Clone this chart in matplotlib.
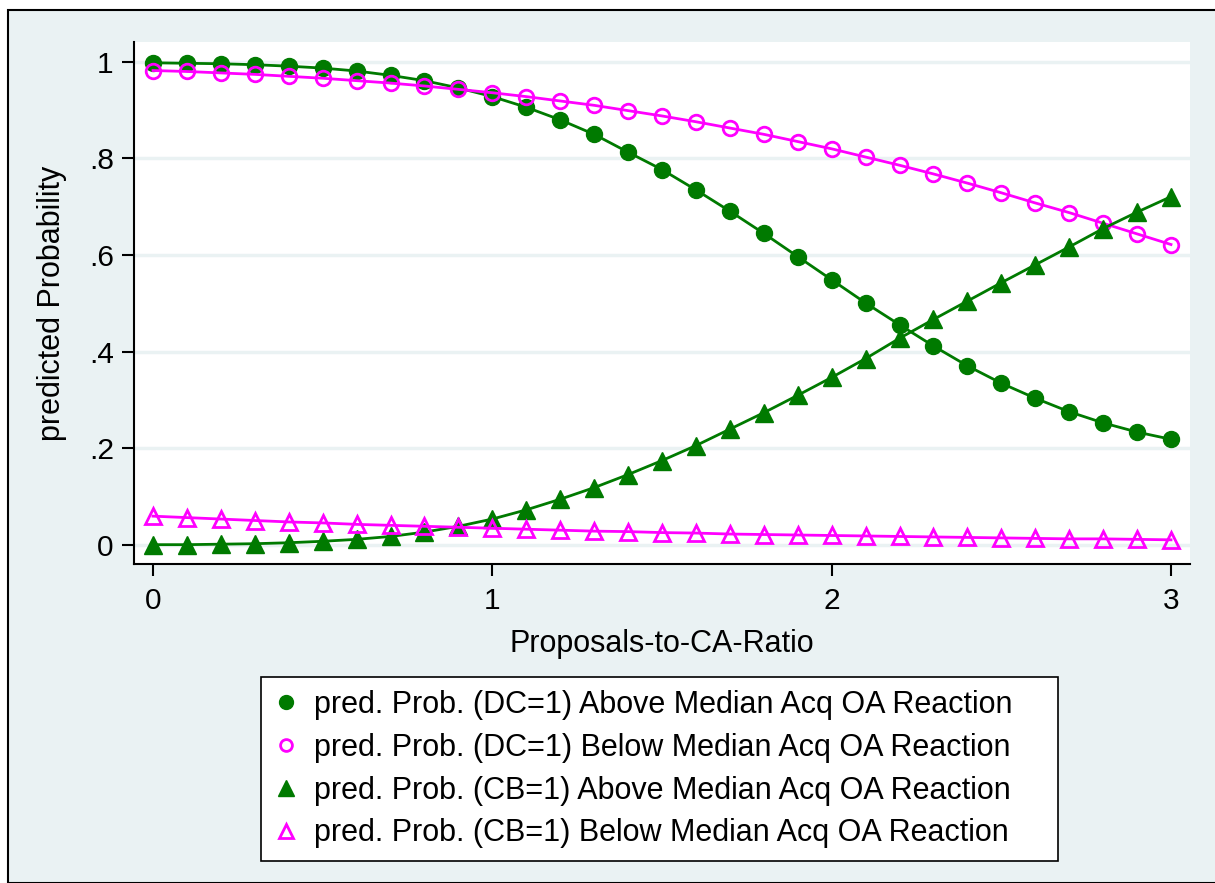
import numpy as np
import matplotlib.pyplot as plt
from matplotlib.patches import Rectangle
from matplotlib.lines import Line2D

plt.rcParams['font.family'] = ['Liberation Sans', 'DejaVu Sans']

ratio = [round(0.1 * i, 1) for i in range(31)]

dc_above = [0.998, 0.997, 0.996, 0.994, 0.991, 0.987, 0.981, 0.972, 0.961, 0.946,
            0.928, 0.906, 0.880, 0.850, 0.813, 0.777, 0.735, 0.691, 0.645, 0.597,
            0.549, 0.501, 0.456, 0.412, 0.371, 0.335, 0.304, 0.276, 0.253, 0.234,
            0.219]
dc_below = [0.982, 0.980, 0.977, 0.974, 0.970, 0.966, 0.961, 0.956, 0.950, 0.943,
            0.936, 0.928, 0.919, 0.910, 0.899, 0.888, 0.876, 0.863, 0.850, 0.835,
            0.820, 0.803, 0.786, 0.768, 0.749, 0.729, 0.708, 0.688, 0.666, 0.644,
            0.622]
cb_above = [0.001, 0.001, 0.002, 0.003, 0.005, 0.008, 0.012, 0.018, 0.027, 0.039,
            0.054, 0.073, 0.095, 0.119, 0.146, 0.175, 0.206, 0.240, 0.274, 0.310,
            0.347, 0.386, 0.428, 0.467, 0.505, 0.543, 0.580, 0.617, 0.655, 0.689,
            0.721]
cb_below = [0.060, 0.057, 0.054, 0.051, 0.048, 0.046, 0.043, 0.041, 0.039, 0.037,
            0.035, 0.033, 0.031, 0.029, 0.028, 0.026, 0.025, 0.023, 0.022, 0.021,
            0.020, 0.019, 0.018, 0.017, 0.016, 0.015, 0.014, 0.013, 0.013, 0.012,
            0.011]

labels = [
    "pred. Prob. (DC=1) Above Median Acq OA Reaction",
    "pred. Prob. (DC=1) Below Median Acq OA Reaction",
    "pred. Prob. (CB=1) Above Median Acq OA Reaction",
    "pred. Prob. (CB=1) Below Median Acq OA Reaction",
]
yticks = [0, 0.2, 0.4, 0.6, 0.8, 1]
ytick_labels = ["0", ".2", ".4", ".6", ".8", "1"]
xticks = [0, 1, 2, 3]

GREEN = '#007a00'
MAGENTA = '#ff00ff'
BG = '#eaf2f3'

fig = plt.figure(figsize=(12.15, 8.83), dpi=100)
fig.patch.set_facecolor('white')
# outer framed region, behind the axes
fig.patches.append(Rectangle((8 / 1215, 0), 1 - 8 / 1215 + 0.01, 1 - 10 / 883,
                             transform=fig.transFigure, facecolor=BG,
                             edgecolor='black', linewidth=1.5, zorder=-10))

ax = fig.add_axes([134 / 1215, 1 - 564 / 883, (1190 - 134) / 1215, (564 - 42) / 883])
ax.set_facecolor('white')

ax.plot(ratio, dc_above, color=GREEN, lw=2, marker='o', ms=11.5,
        mfc=GREEN, mec=GREEN, zorder=3)
ax.plot(ratio, dc_below, color=MAGENTA, lw=2, marker='o', ms=10.5,
        mfc='none', mec=MAGENTA, mew=2, zorder=3)
ax.plot(ratio, cb_above, color=GREEN, lw=2, marker='^', ms=13,
        mfc=GREEN, mec=GREEN, zorder=3)
ax.plot(ratio, cb_below, color=MAGENTA, lw=2, marker='^', ms=12,
        mfc='none', mec=MAGENTA, mew=2, zorder=3)

ax.set_xlim(-0.056, 3.056)
ax.set_ylim(-0.039, 1.041)
ax.set_yticks(yticks)
ax.set_yticklabels(ytick_labels)
ax.set_xticks(xticks)
ax.grid(axis='y', color=BG, lw=2.5)
ax.set_axisbelow(True)
for side in ['top', 'right']:
    ax.spines[side].set_visible(False)
ax.spines['left'].set_linewidth(1.5)
ax.spines['bottom'].set_linewidth(1.5)
ax.tick_params(axis='both', labelsize=21.5, length=8.5, width=1.5)
ax.tick_params(axis='y', pad=6)
ax.tick_params(axis='x', pad=8)

ax.set_xlabel("Proposals-to-CA-Ratio", fontsize=22, labelpad=10)
ax.set_ylabel("predicted Probability", fontsize=22, labelpad=16)

handles = [
    Line2D([], [], ls='none', marker='o', ms=10, mfc=GREEN, mec=GREEN),
    Line2D([], [], ls='none', marker='o', ms=8.5, mfc='none', mec=MAGENTA, mew=2),
    Line2D([], [], ls='none', marker='^', ms=11, mfc=GREEN, mec=GREEN),
    Line2D([], [], ls='none', marker='^', ms=10, mfc='none', mec=MAGENTA, mew=2),
]
leg = fig.legend(handles, labels, loc='upper left', mode='expand',
                 bbox_to_anchor=(261 / 1215, 1 - 860 / 883, 797 / 1215, 183 / 883),
                 fontsize=22, frameon=True, fancybox=False, edgecolor='black',
                 framealpha=1, facecolor='white',
                 handlelength=0.8, handletextpad=0.5, labelspacing=0.42,
                 borderpad=0.42, borderaxespad=0)
leg.get_frame().set_linewidth(1.2)

fig.savefig("out.png", dpi=100, facecolor=fig.get_facecolor())
